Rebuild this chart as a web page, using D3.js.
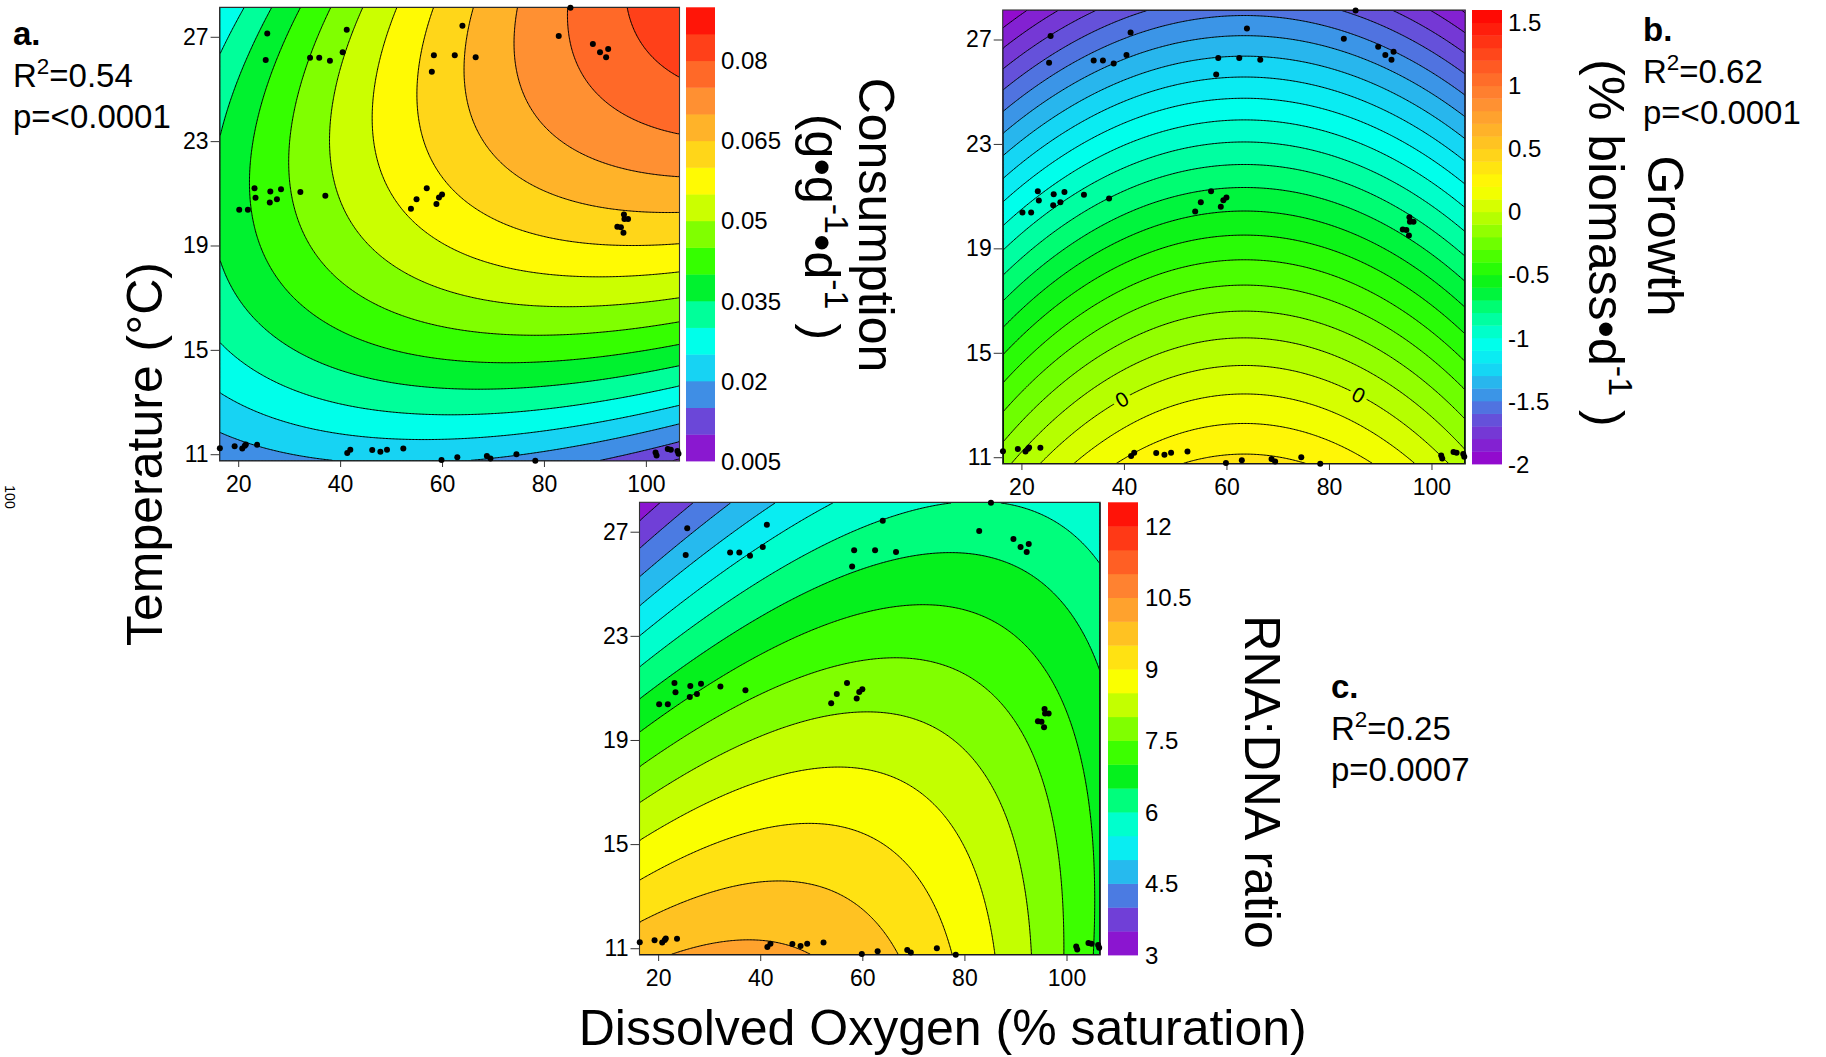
<!DOCTYPE html>
<html>
<head>
<meta charset="utf-8">
<script src="https://cdn.jsdelivr.net/npm/d3@7"></script>
<style>
  html, body { margin: 0; padding: 0; background: #fff; }
  svg { display: block; font-family: "Liberation Sans", Arial, Helvetica, sans-serif; }
</style>
</head>
<body>
<svg id="fig" width="1826" height="1057"></svg>
<script>
// ---- sampling sites: dissolved oxygen (% saturation) and temperature (°C) ----
const siteDO = [
  85.2, 25.7, 25.4, 41.3, 40.5, 34.1, 35.9, 38.0, 64.0, 58.4, 62.5, 66.6, 58.0, 82.9, 89.6, 91.0, 92.6, 92.2,
  23.2, 23.4, 26.3, 26.2, 27.6, 28.4, 20.2, 21.9, 32.2, 37.1, 57.0, 55.0, 53.9, 59.4, 60.0, 58.9, 95.7, 95.8, 96.5, 94.4, 95.1, 95.6,
  16.4, 19.3, 20.8, 21.3, 21.5, 23.7, 41.4, 42.0, 46.3, 47.9, 49.2, 52.4, 59.9, 63.0, 68.8, 69.5, 74.6, 78.3, 101.9, 102.1, 104.3, 104.9, 106.2, 106.4
];
const siteTemp = [
  28.11, 27.13, 26.11, 27.27, 26.41, 26.20, 26.20, 26.08, 27.42, 26.29, 26.29, 26.22, 25.66, 27.03, 26.72, 26.41, 26.53, 26.22,
  21.19, 20.83, 21.07, 20.65, 20.77, 21.16, 20.37, 20.37, 21.05, 20.91, 21.19, 20.77, 20.41, 20.84, 20.95, 20.59, 20.19, 20.02, 20.02, 19.72, 19.70, 19.49,
  11.23, 11.31, 11.22, 11.32, 11.37, 11.36, 11.05, 11.17, 11.16, 11.09, 11.17, 11.22, 10.78, 10.88, 10.93, 10.84, 11.00, 10.75, 11.07, 10.95, 11.20, 11.17, 11.12, 11.02
];

// ---- fitted response surfaces: [intercept, DO, T, DO², T², DO·T] ----
const consumptionCoef = [-0.048613, -0.000054, 0.007648, -0.00000374, -0.000200, 0.0000412];
const growthCoef      = [0.2182, 0.026416, -0.0525, -0.000208, -0.0014, 0];
const rnaDnaCoef      = [12.2917, 0.009982, -0.2195, -0.000655, -0.00575, 0.00348];

// ---- colour keys: [lowest level, highest level, step] and labelled values ----
const consumptionKey = [0.005, 0.09, 0.005];
const growthKey      = [-2, 1.6, 0.1];
const rnaDnaKey      = [3, 12.5, 0.5];
const consumptionTicks = [0.005, 0.02, 0.035, 0.05, 0.065, 0.08];
const growthTicks      = [-2, -1.5, -1, -0.5, 0, 0.5, 1, 1.5];
const rnaDnaTicks      = [3, 4.5, 6, 7.5, 9, 10.5, 12];

// ---- axes ----
const doDomain   = [16.35, 106.6];
const tempDomain = [10.74, 28.13];
const doTicks    = [20, 40, 60, 80, 100];
const tempTicks  = [11, 15, 19, 23, 27];

// DO values where the zero-growth contour carries a label
const growthZeroLabelDO = [39.6, 85.8];

// ---- model statistics ----
const panelTags = ["a.", "b.", "c."];
const panelR2   = ["0.54", "0.62", "0.25"];
const panelP    = ["<0.0001", "<0.0001", "0.0007"];

// rainbow used for the filled contours
const rainbowPos = [0, 0.09, 0.15, 0.21, 0.26, 0.30, 0.34, 0.39, 0.44, 0.50, 0.56, 0.61, 0.68, 0.74, 0.80, 0.87, 0.93, 1];
const rainbowCol = ["#9900cc", "#6a48d8", "#3d92e6", "#14d8f4", "#00fff0", "#00ffc0", "#00ff80", "#00f020", "#33ff00",
                    "#80ff00", "#ccff00", "#ffff00", "#ffd41a", "#ffb02a", "#ff8c33", "#ff5e24", "#ff3314", "#ff0000"];
const rainbow = d3.scaleLinear().domain(rainbowPos).range(rainbowCol).interpolate(d3.interpolateRgb).clamp(true);

const FONT = '"Liberation Sans", Arial, Helvetica, sans-serif';
const svg = d3.select("#fig");
const defs = svg.append("defs");
const fmtKey = d => String(d);   // plain hyphen for negative values

function surface(c, x, t) {
  return c[0] + c[1] * x + c[2] * t + c[3] * x * x + c[4] * t * t + c[5] * x * t;
}

const panels = [
  { id: "cons", coef: consumptionCoef, key: consumptionKey, ticks: consumptionTicks,
    plot: [219.6, 679.5, 7.3, 461], bar: [686, 715], barLabelX: 721 },
  { id: "grow", coef: growthCoef, key: growthKey, ticks: growthTicks,
    plot: [1002.7, 1465.3, 10, 464], bar: [1472, 1502], barLabelX: 1508, zeroLabels: growthZeroLabelDO },
  { id: "rna", coef: rnaDnaCoef, key: rnaDnaKey, ticks: rnaDnaTicks,
    plot: [639.5, 1100.2, 502.3, 955], bar: [1108, 1138], barLabelX: 1145 }
];

function drawPanel(p) {
  const [x0, x1, y0, y1] = p.plot;
  const sx = d3.scaleLinear().domain(doDomain).range([x0, x1]);
  const sy = d3.scaleLinear().domain(tempDomain).range([y1, y0]);
  const [lo, hi, step] = p.key;
  const nBands = Math.round((hi - lo) / step);
  const levels = d3.range(nBands).map(k => +(lo + k * step).toFixed(6));
  const bandColor = k => rainbow((k + 0.5) / nBands);

  // evaluate the surface on a grid and trace the filled contours
  const N = 320;
  const doSpan = doDomain[1] - doDomain[0], tSpan = tempDomain[1] - tempDomain[0];
  const values = new Float64Array(N * N);
  for (let j = 0; j < N; j++) {
    const t = tempDomain[0] + (j + 0.5) / N * tSpan;
    for (let i = 0; i < N; i++) {
      const x = doDomain[0] + (i + 0.5) / N * doSpan;
      values[j * N + i] = surface(p.coef, x, t);
    }
  }
  const bands = d3.contours().size([N, N]).thresholds(levels)(values);
  const path = d3.geoPath(d3.geoTransform({
    point(gx, gy) {
      this.stream.point(sx(doDomain[0] + gx / N * doSpan), sy(tempDomain[0] + gy / N * tSpan));
    }
  }));

  const clipId = "clip-" + p.id;
  defs.append("clipPath").attr("id", clipId)
    .append("rect").attr("x", x0).attr("y", y0).attr("width", x1 - x0).attr("height", y1 - y0);

  const g = svg.append("g");
  const fills = g.append("g").attr("clip-path", `url(#${clipId})`);
  fills.append("rect").attr("x", x0).attr("y", y0).attr("width", x1 - x0).attr("height", y1 - y0)
    .attr("fill", bandColor(0));
  fills.selectAll("path").data(bands).join("path")
    .attr("d", path).attr("fill", (d, k) => bandColor(k)).attr("stroke", (d, k) => bandColor(k)).attr("stroke-width", 0.3);

  // contour lines (optionally broken where labels sit)
  const lines = g.append("g").attr("clip-path", `url(#${clipId})`);
  const labelSpots = [];
  if (p.zeroLabels) {
    p.zeroLabels.forEach(xv => {
      // find the temperature where the surface crosses zero at this DO
      let a = tempDomain[0], b = tempDomain[1];
      const fa = surface(p.coef, xv, a);
      for (let it = 0; it < 60; it++) {
        const m = (a + b) / 2;
        if ((surface(p.coef, xv, m) > 0) === (fa > 0)) a = m; else b = m;
      }
      const tv = (a + b) / 2;
      const h = 1e-3;
      const gx = (surface(p.coef, xv + h, tv) - surface(p.coef, xv - h, tv)) / (2 * h) / (sx(1) - sx(0));
      const gy = (surface(p.coef, xv, tv + h) - surface(p.coef, xv, tv - h)) / (2 * h) / (sy(1) - sy(0));
      let ang = Math.atan2(gx, -gy) * 180 / Math.PI;   // tangent direction in screen space
      if (ang > 90) ang -= 180;
      if (ang < -90) ang += 180;
      labelSpots.push({ x: sx(xv), y: sy(tv), ang });
    });
    const maskId = "gap-" + p.id;
    const mask = defs.append("mask").attr("id", maskId).attr("maskUnits", "userSpaceOnUse")
      .attr("x", 0).attr("y", 0).attr("width", 1826).attr("height", 1057);
    mask.append("rect").attr("width", 1826).attr("height", 1057).attr("fill", "#fff");
    labelSpots.forEach(s => {
      mask.append("rect").attr("x", -9).attr("y", -8).attr("width", 18).attr("height", 16).attr("fill", "#000")
        .attr("transform", `translate(${s.x},${s.y}) rotate(${s.ang})`);
    });
    lines.attr("mask", `url(#${maskId})`);
  }
  lines.selectAll("path").data(bands.slice(1)).join("path")
    .attr("d", path).attr("fill", "none").attr("stroke", "#000").attr("stroke-width", 1);

  labelSpots.forEach(s => {
    g.append("text").attr("transform", `translate(${s.x},${s.y}) rotate(${s.ang})`)
      .attr("text-anchor", "middle").attr("dy", "0.35em").attr("font-size", 21).attr("font-family", FONT)
      .text("0");
  });

  // plot frame
  g.append("rect").attr("x", x0).attr("y", y0).attr("width", x1 - x0).attr("height", y1 - y0)
    .attr("fill", "none").attr("stroke", "#333").attr("stroke-width", 1.1);

  // axes
  const ax = g.append("g").attr("transform", `translate(0,${y1})`)
    .call(d3.axisBottom(sx).tickValues(doTicks).tickSize(6).tickPadding(8.5));
  const ay = g.append("g").attr("transform", `translate(${x0},0)`)
    .call(d3.axisLeft(sy).tickValues(tempTicks).tickSize(9).tickPadding(2));
  [ax, ay].forEach(a => {
    a.select(".domain").remove();
    a.attr("font-size", 23).attr("font-family", FONT);
    a.selectAll("line").attr("stroke", "#333");
    a.selectAll("text").attr("fill", "#000");
  });

  // colour key
  const cy = d3.scaleLinear().domain([lo, hi]).range([y1, y0]);
  const key = g.append("g");
  key.selectAll("rect").data(levels).join("rect")
    .attr("x", p.bar[0]).attr("width", p.bar[1] - p.bar[0])
    .attr("y", d => cy(d + step)).attr("height", d => cy(d) - cy(d + step) + 0.4)
    .attr("fill", (d, k) => bandColor(k));
  key.selectAll("text").data(p.ticks).join("text")
    .attr("x", p.barLabelX).attr("y", d => cy(d)).attr("dy", "0.36em")
    .attr("font-size", 24).attr("font-family", FONT)
    .text(fmtKey);

  // sampling sites
  g.append("g").selectAll("circle").data(d3.range(siteDO.length)).join("circle")
    .attr("cx", i => sx(siteDO[i])).attr("cy", i => sy(siteTemp[i])).attr("r", 3).attr("fill", "#000");
}

panels.forEach(drawPanel);

// ---- titles ----
function addText(x, y, rot, size, content, opts = {}) {
  const t = svg.append("text")
    .attr("transform", `translate(${x},${y})` + (rot ? ` rotate(${rot})` : ""))
    .attr("font-size", size).attr("font-family", FONT)
    .attr("text-anchor", opts.anchor || "middle")
    .attr("font-weight", opts.weight || "normal");
  content.forEach(part => {
    if (typeof part === "string") t.append("tspan").text(part);
    else {
      t.append("tspan").attr("font-size", size * 0.68).attr("dy", -size * 0.4).text(part.sup);
      t.append("tspan").attr("dy", size * 0.4).text(part.after || "");
    }
  });
  return t;
}

addText(161.7, 454, -90, 50, ["Temperature (°C)"]);
addText(942.7, 1045, 0, 50, ["Dissolved Oxygen (% saturation)"]);
addText(859, 225, 90, 50, ["Consumption"]);
addText(805, 227, 90, 50, ["(g•g", { sup: "-1", after: "•d" }, { sup: "-1", after: " )" }]);
addText(1648, 236, 90, 50, ["Growth"]);
addText(1589, 243, 90, 50, ["(% biomass•d", { sup: "-1", after: " )" }]);
addText(1245, 782, 90, 50, ["RNA:DNA ratio"]);

// small rotated axis number at the left page edge
addText(5, 497, 90, 14, ["100"]);

// ---- panel statistics ----
const statPos = [[13, 45], [1643, 41], [1331, 698]];
statPos.forEach(([x, y], i) => {
  addText(x, y, 0, 33, [panelTags[i]], { anchor: "start", weight: "bold" });
  addText(x, y + 42, 0, 33, ["R", { sup: "2", after: "=" + panelR2[i] }], { anchor: "start" });
  addText(x, y + 83, 0, 33, ["p=" + panelP[i]], { anchor: "start" });
});
</script>
</body>
</html>
